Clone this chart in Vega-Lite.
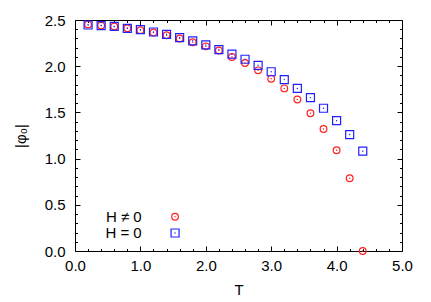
{
  "$schema": "https://vega.github.io/schema/vega-lite/v6.json",
  "width": 327,
  "height": 231,
  "autosize": "none",
  "padding": {"left": 75, "top": 20, "right": 29, "bottom": 51},
  "background": "white",
  "config": {
    "view": {"stroke": "#000", "strokeWidth": 1},
    "font": "Liberation Sans",
    "point": {"opacity": 1},
    "axis": {"domain": false, "grid": false, "labelFlush": false, "labelFont": "Liberation Sans", "titleFont": "Liberation Sans", "labelFontSize": 15, "titleFontSize": 15, "labelColor": "#000", "titleColor": "#000", "tickColor": "#000", "tickWidth": 1, "titleFontWeight": "normal"}
  },
  "datasets": {
    "pts": [
      {"T": 0.2, "phi": 2.45, "H": "H ≠ 0"},
      {"T": 0.4, "phi": 2.44, "H": "H ≠ 0"},
      {"T": 0.6, "phi": 2.43, "H": "H ≠ 0"},
      {"T": 0.8, "phi": 2.41, "H": "H ≠ 0"},
      {"T": 1.0, "phi": 2.39, "H": "H ≠ 0"},
      {"T": 1.2, "phi": 2.365, "H": "H ≠ 0"},
      {"T": 1.4, "phi": 2.335, "H": "H ≠ 0"},
      {"T": 1.6, "phi": 2.3, "H": "H ≠ 0"},
      {"T": 1.8, "phi": 2.26, "H": "H ≠ 0"},
      {"T": 2.0, "phi": 2.215, "H": "H ≠ 0"},
      {"T": 2.2, "phi": 2.17, "H": "H ≠ 0"},
      {"T": 2.4, "phi": 2.1, "H": "H ≠ 0"},
      {"T": 2.6, "phi": 2.035, "H": "H ≠ 0"},
      {"T": 2.8, "phi": 1.955, "H": "H ≠ 0"},
      {"T": 3.0, "phi": 1.865, "H": "H ≠ 0"},
      {"T": 3.2, "phi": 1.76, "H": "H ≠ 0"},
      {"T": 3.4, "phi": 1.64, "H": "H ≠ 0"},
      {"T": 3.6, "phi": 1.49, "H": "H ≠ 0"},
      {"T": 3.8, "phi": 1.32, "H": "H ≠ 0"},
      {"T": 4.0, "phi": 1.09, "H": "H ≠ 0"},
      {"T": 4.2, "phi": 0.787, "H": "H ≠ 0"},
      {"T": 4.4, "phi": 0.0, "H": "H ≠ 0"},
      {"T": 0.2, "phi": 2.446, "H": "H = 0"},
      {"T": 0.4, "phi": 2.44, "H": "H = 0"},
      {"T": 0.6, "phi": 2.43, "H": "H = 0"},
      {"T": 0.8, "phi": 2.41, "H": "H = 0"},
      {"T": 1.0, "phi": 2.395, "H": "H = 0"},
      {"T": 1.2, "phi": 2.37, "H": "H = 0"},
      {"T": 1.4, "phi": 2.345, "H": "H = 0"},
      {"T": 1.6, "phi": 2.31, "H": "H = 0"},
      {"T": 1.8, "phi": 2.275, "H": "H = 0"},
      {"T": 2.0, "phi": 2.23, "H": "H = 0"},
      {"T": 2.2, "phi": 2.18, "H": "H = 0"},
      {"T": 2.4, "phi": 2.13, "H": "H = 0"},
      {"T": 2.6, "phi": 2.075, "H": "H = 0"},
      {"T": 2.8, "phi": 2.01, "H": "H = 0"},
      {"T": 3.0, "phi": 1.94, "H": "H = 0"},
      {"T": 3.2, "phi": 1.855, "H": "H = 0"},
      {"T": 3.4, "phi": 1.76, "H": "H = 0"},
      {"T": 3.6, "phi": 1.66, "H": "H = 0"},
      {"T": 3.8, "phi": 1.545, "H": "H = 0"},
      {"T": 4.0, "phi": 1.41, "H": "H = 0"},
      {"T": 4.2, "phi": 1.26, "H": "H = 0"},
      {"T": 4.4, "phi": 1.08, "H": "H = 0"}
    ],
    "leg": [
      {"lx": 1.53, "tx": 1.02, "ly": 0.37, "H": "H ≠ 0"},
      {"lx": 1.53, "tx": 1.02, "ly": 0.195, "H": "H = 0"}
    ]
  },
  "resolve": {"axis": {"x": "independent", "y": "independent"}},
  "layer": [
    {
      "data": {"name": "pts"},
      "mark": {"type": "point", "filled": false, "strokeWidth": 1.2, "opacity": 1},
      "encoding": {
        "x": {"field": "T", "type": "quantitative", "scale": {"domain": [0, 5], "nice": false},
          "axis": {"orient": "bottom", "title": "T", "values": [0, 1, 2, 3, 4, 5], "format": ".1f", "tickSize": -5, "labelPadding": 12, "titlePadding": 9}},
        "y": {"field": "phi", "type": "quantitative", "scale": {"domain": [0, 2.5], "nice": false, "zero": false},
          "axis": {"orient": "left", "title": "|φ₀|", "values": [0, 0.5, 1, 1.5, 2, 2.5], "format": ".1f", "tickSize": -5, "labelPadding": 15, "titlePadding": 16}},
        "shape": {"field": "H", "type": "nominal", "scale": {"domain": ["H ≠ 0", "H = 0"], "range": ["circle", "square"]}, "legend": null},
        "color": {"field": "H", "type": "nominal", "scale": {"domain": ["H ≠ 0", "H = 0"], "range": ["#ff2020", "#2020ff"]}, "legend": null},
        "size": {"field": "H", "type": "nominal", "scale": {"domain": ["H ≠ 0", "H = 0"], "range": [45, 64]}, "legend": null}
      }
    },
    {
      "data": {"name": "pts"},
      "mark": {"type": "point", "filled": true, "size": 2, "opacity": 1},
      "encoding": {
        "x": {"field": "T", "type": "quantitative",
          "axis": {"orient": "top", "title": null, "labels": false, "values": [0, 1, 2, 3, 4, 5], "tickSize": -5}},
        "y": {"field": "phi", "type": "quantitative",
          "axis": {"orient": "right", "title": null, "labels": false, "values": [0, 0.5, 1, 1.5, 2, 2.5], "tickSize": -5}},
        "color": {"field": "H", "type": "nominal", "legend": null}
      }
    },
    {
      "data": {"name": "leg"},
      "mark": {"type": "text", "align": "right", "baseline": "middle", "fontSize": 15, "font": "Liberation Sans", "color": "#000"},
      "encoding": {
        "x": {"field": "tx", "type": "quantitative",
          "axis": {"orient": "bottom", "title": null, "labels": false, "values": [0.2,0.4,0.6,0.8,1.2,1.4,1.6,1.8,2.2,2.4,2.6,2.8,3.2,3.4,3.6,3.8,4.2,4.4,4.6,4.8], "tickSize": -2.5}},
        "y": {"field": "ly", "type": "quantitative",
          "axis": {"orient": "left", "title": null, "labels": false, "values": [0.1,0.2,0.3,0.4,0.6,0.7,0.8,0.9,1.1,1.2,1.3,1.4,1.6,1.7,1.8,1.9,2.1,2.2,2.3,2.4], "tickSize": -2.5}},
        "text": {"field": "H"}
      }
    },
    {
      "data": {"name": "leg"},
      "mark": {"type": "point", "filled": false, "strokeWidth": 1.2, "opacity": 1},
      "encoding": {
        "x": {"field": "lx", "type": "quantitative",
          "axis": {"orient": "top", "title": null, "labels": false, "values": [0.2,0.4,0.6,0.8,1.2,1.4,1.6,1.8,2.2,2.4,2.6,2.8,3.2,3.4,3.6,3.8,4.2,4.4,4.6,4.8], "tickSize": -2.5}},
        "y": {"field": "ly", "type": "quantitative",
          "axis": {"orient": "right", "title": null, "labels": false, "values": [0.1,0.2,0.3,0.4,0.6,0.7,0.8,0.9,1.1,1.2,1.3,1.4,1.6,1.7,1.8,1.9,2.1,2.2,2.3,2.4], "tickSize": -2.5}},
        "shape": {"field": "H", "type": "nominal", "legend": null},
        "color": {"field": "H", "type": "nominal", "legend": null},
        "size": {"field": "H", "type": "nominal", "legend": null}
      }
    },
    {
      "data": {"name": "leg"},
      "mark": {"type": "point", "filled": true, "size": 2, "opacity": 1},
      "encoding": {
        "x": {"field": "lx", "type": "quantitative", "axis": null},
        "y": {"field": "ly", "type": "quantitative", "axis": null},
        "color": {"field": "H", "type": "nominal", "legend": null}
      }
    }
  ]
}
